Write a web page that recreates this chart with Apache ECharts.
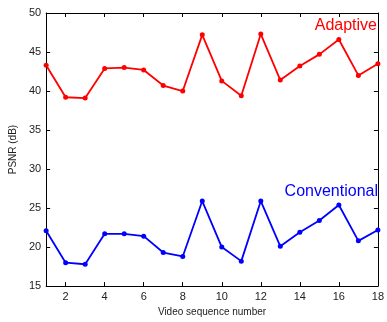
<!DOCTYPE html>
<html>
<head>
<meta charset="utf-8">
<script src="https://cdn.jsdelivr.net/npm/echarts@6/dist/echarts.min.js"></script>
<style>
    html, body { margin: 0; padding: 0; background: #fff; }
    #main { width: 387px; height: 322px; }
</style>
</head>
<body>
<div id="main"></div>
<script>
    // video sequence numbers 1..18
    var seqNumbers = [1, 2, 3, 4, 5, 6, 7, 8, 9, 10, 11, 12, 13, 14, 15, 16, 17, 18];
    var adaptive = [43.3, 39.2, 39.1, 42.9, 43.0, 42.7, 40.7, 40.0, 47.2, 41.3, 39.4, 47.3, 41.4, 43.2, 44.7, 46.6, 42.0, 43.5];
    var conventional = [22.1, 18.0, 17.8, 21.7, 21.7, 21.4, 19.3, 18.8, 25.9, 20.0, 18.2, 25.9, 20.1, 21.9, 23.4, 25.4, 20.8, 22.2];
    var xTicks = [2, 4, 6, 8, 10, 12, 14, 16, 18];

    var myChart = echarts.init(document.getElementById('main'));

    function pairs(vals) {
        return seqNumbers.map(function (x, i) { return [x, vals[i]]; });
    }

    var font = 'Liberation Sans, Arial, sans-serif';
    var axisLine = {show: true, lineStyle: {color: '#000', width: 1}};
    var tickIn = {show: true, inside: true, length: 4, lineStyle: {color: '#000'}};
    var xTickIn = {show: true, inside: true, length: 4, lineStyle: {color: '#000'}, customValues: xTicks};

    var option = {
        animation: false,
        backgroundColor: '#fff',
        grid: {left: 41, right: 5, top: 13, bottom: 32, containLabel: false},
        xAxis: [
            {
                type: 'value', min: 1, max: 18,
                name: 'Video sequence number', nameLocation: 'middle', nameGap: 17,
                nameTextStyle: {fontSize: 10, color: '#222', fontFamily: font},
                axisLine: axisLine, axisTick: xTickIn,
                axisLabel: {fontSize: 11, color: '#222', fontFamily: font, margin: 5, customValues: xTicks},
                splitLine: {show: false}
            },
            {
                type: 'value', min: 1, max: 18, position: 'top',
                axisLine: axisLine, axisTick: xTickIn, axisLabel: {show: false}, splitLine: {show: false}
            }
        ],
        yAxis: [
            {
                type: 'value', min: 15, max: 50, interval: 5,
                name: 'PSNR (dB)', nameLocation: 'middle', nameGap: 22,
                nameTextStyle: {fontSize: 10, color: '#222', fontFamily: font},
                axisLine: axisLine, axisTick: tickIn,
                axisLabel: {fontSize: 11, color: '#222', fontFamily: font, margin: 5},
                splitLine: {show: false}
            },
            {
                type: 'value', min: 15, max: 50, interval: 5, position: 'right',
                axisLine: axisLine, axisTick: tickIn, axisLabel: {show: false}, splitLine: {show: false}
            }
        ],
        graphic: [
            {type: 'text', right: 10, top: 18, style: {text: 'Adaptive', fill: '#ff0000', font: '16px ' + font}},
            {type: 'text', right: 9, top: 184, style: {text: 'Conventional', fill: '#0000ff', font: '16px ' + font}}
        ],
        series: [
            {
                name: 'Adaptive', type: 'line', data: pairs(adaptive),
                symbol: 'circle', symbolSize: 5,
                lineStyle: {color: '#ff0000', width: 1.8}, itemStyle: {color: '#ff0000'}
            },
            {
                name: 'Conventional', type: 'line', data: pairs(conventional),
                symbol: 'circle', symbolSize: 5,
                lineStyle: {color: '#0000ff', width: 1.8}, itemStyle: {color: '#0000ff'}
            }
        ]
    };

    myChart.setOption(option);
</script>
</body>
</html>
